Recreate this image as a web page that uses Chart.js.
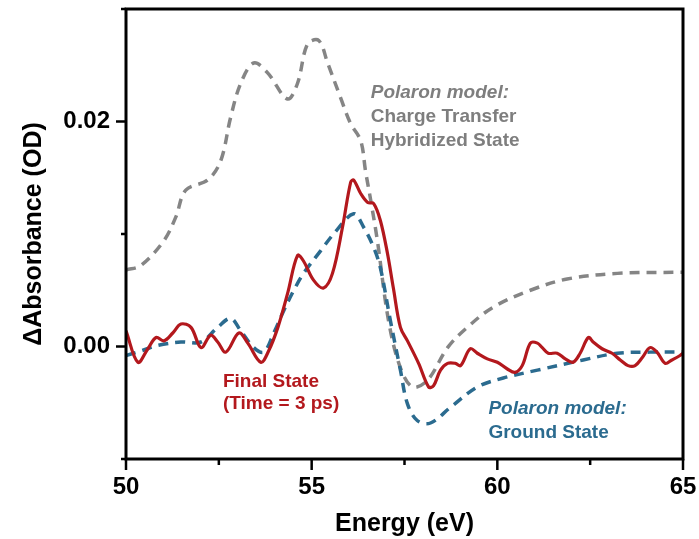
<!DOCTYPE html>
<html>
<head>
<meta charset="utf-8">
<script src="https://cdn.jsdelivr.net/npm/chart.js@4.4.0/dist/chart.umd.min.js"></script>
<style>
  html, body { margin: 0; padding: 0; background: #fff; }
  #wrap { width: 699px; height: 539px; }
</style>
</head>
<body>
<div id="wrap"><canvas id="absChart" width="699" height="539"></canvas></div>
<script>
// Polaron model: charge transfer hybridized state (gray dashed)
const ctEnergy = [50.0, 50.4, 51.02, 51.34, 51.61, 52.2, 52.55, 52.82, 53.09, 53.44, 53.82, 54.35, 54.62, 54.89, 55.19, 55.43, 55.78, 56.05, 56.32, 56.45, 56.59, 56.77, 57.07, 57.39, 57.72, 58.12, 58.66, 59.19, 59.89, 60.89, 61.88, 63.23, 65.0];
const ctAbs = [0.0068, 0.0072, 0.0094, 0.0115, 0.0139, 0.0148, 0.0165, 0.0204, 0.0234, 0.0252, 0.0243, 0.0220, 0.0234, 0.0269, 0.0272, 0.0252, 0.0221, 0.0198, 0.0183, 0.0156, 0.0130, 0.0094, 0.0023, -0.0019, -0.0036, -0.0030, -0.0001, 0.0017, 0.0035, 0.0050, 0.0060, 0.0065, 0.0066];

// Polaron model: ground state (blue dashed)
const gsEnergy = [50.0, 50.4, 50.86, 51.48, 52.02, 52.47, 52.82, 53.09, 53.44, 53.71, 53.98, 54.25, 54.52, 54.78, 55.24, 55.59, 56.13, 56.4, 56.67, 56.85, 57.12, 57.39, 57.58, 57.85, 58.2, 58.74, 59.46, 60.16, 61.08, 62.31, 63.23, 64.11, 65.0];
const gsAbs = [-0.0008, -0.0004, 0.0001, 0.0004, 0.0004, 0.0017, 0.0025, 0.0014, -0.0001, -0.0005, 0.0012, 0.0032, 0.0050, 0.0065, 0.0085, 0.0100, 0.0118, 0.0106, 0.0088, 0.0070, 0.0023, -0.0021, -0.0051, -0.0066, -0.0068, -0.0054, -0.0036, -0.0028, -0.0021, -0.0012, -0.0006, -0.0005, -0.0005];

// Final state, time = 3 ps (red solid)
const fsEnergy = [50.0, 50.32, 50.59, 50.81, 51.02, 51.26, 51.48, 51.75, 52.02, 52.28, 52.47, 52.69, 53.04, 53.28, 53.63, 53.84, 54.09, 54.35, 54.62, 54.78, 55.05, 55.32, 55.56, 55.83, 56.05, 56.13, 56.32, 56.51, 56.67, 56.85, 57.04, 57.2, 57.39, 57.58, 57.88, 58.15, 58.28, 58.47, 58.66, 58.87, 59.01, 59.27, 59.46, 59.73, 60.0, 60.27, 60.48, 60.67, 60.89, 61.08, 61.21, 61.37, 61.61, 61.83, 62.04, 62.23, 62.45, 62.58, 62.82, 63.09, 63.31, 63.52, 63.71, 63.9, 64.11, 64.3, 64.52, 64.7, 64.92, 65.0];
const fsAbs = [0.0014, -0.0014, -0.0002, 0.0008, 0.0005, 0.0012, 0.0020, 0.0017, -0.0001, 0.0010, 0.0004, -0.0005, 0.0012, 0.0003, -0.0014, -0.0004, 0.0017, 0.0047, 0.0081, 0.0076, 0.0059, 0.0052, 0.0065, 0.0106, 0.0146, 0.0148, 0.0136, 0.0128, 0.0127, 0.0112, 0.0083, 0.0052, 0.0017, 0.0005, -0.0015, -0.0036, -0.0035, -0.0021, -0.0015, -0.0015, -0.0017, -0.0002, -0.0006, -0.0011, -0.0014, -0.0020, -0.0023, -0.0017, 0.0003, 0.0003, -0.0001, -0.0006, -0.0006, -0.0011, -0.0014, -0.0006, 0.0008, 0.0004, -0.0002, -0.0006, -0.0012, -0.0017, -0.0017, -0.0010, -0.0001, -0.0005, -0.0015, -0.0012, -0.0008, -0.0006];

const xTickLabels = [50, 55, 60, 65];
const yTickLabels = [0.00, 0.02];

const RED = '#b3181d';
const BLUE = '#2b6b8f';
const GRAY = '#858585';
const FONT = '"Liberation Sans", Arial, sans-serif';

function toPoints(xs, ys) {
  return xs.map((x, i) => ({ x: x, y: ys[i] }));
}

// text notes, anchored in data coordinates
const notes = [
  { x: 56.59, y: 0.02213, color: '#7e7e7e', lines: [['italic bold', 'Polaron model:'], ['bold', 'Charge Transfer'], ['bold', 'Hybridized State']], step: 24 },
  { x: 52.61, y: -0.00364, color: RED, lines: [['bold', 'Final State'], ['bold', '(Time = 3 ps)']], step: 22 },
  { x: 59.76, y: -0.00596, color: BLUE, lines: [['italic bold', 'Polaron model:'], ['bold', 'Ground State']], step: 24 }
];

const isNear = (v, list) => list.some(t => Math.abs(v - t) < 1e-6);

const frameAndTicks = {
  id: 'frameAndTicks',
  afterDraw(chart) {
    const { ctx, chartArea: a, scales } = chart;
    ctx.save();
    ctx.strokeStyle = '#000';
    ctx.lineWidth = 3;
    ctx.strokeRect(a.left, a.top, a.right - a.left, a.bottom - a.top);
    ctx.lineWidth = 2.5;
    scales.x.ticks.forEach(t => {
      const px = scales.x.getPixelForValue(t.value);
      const len = isNear(t.value, xTickLabels) ? 11 : 6;
      ctx.beginPath();
      ctx.moveTo(px, a.bottom);
      ctx.lineTo(px, a.bottom + len);
      ctx.stroke();
    });
    scales.y.ticks.forEach(t => {
      const py = scales.y.getPixelForValue(t.value);
      const len = isNear(t.value, yTickLabels) ? 10 : 5;
      ctx.beginPath();
      ctx.moveTo(a.left, py);
      ctx.lineTo(a.left - len, py);
      ctx.stroke();
    });
    ctx.restore();
  },
  afterDatasetsDraw(chart) {
    const { ctx, scales } = chart;
    ctx.save();
    ctx.textBaseline = 'alphabetic';
    ctx.textAlign = 'left';
    notes.forEach(n => {
      const px = scales.x.getPixelForValue(n.x);
      const py = scales.y.getPixelForValue(n.y);
      ctx.fillStyle = n.color;
      n.lines.forEach((ln, i) => {
        ctx.font = ln[0] + ' 19px ' + FONT;
        ctx.fillText(ln[1], px, py + i * n.step);
      });
    });
    ctx.restore();
  }
};

new Chart(document.getElementById('absChart'), {
  type: 'line',
  data: {
    datasets: [
      {
        label: 'Final State (Time = 3 ps)',
        data: toPoints(fsEnergy, fsAbs),
        borderColor: RED,
        borderWidth: 3.2,
        pointRadius: 0,
        tension: 0.35,
        order: 0
      },
      {
        label: 'Polaron model: Ground State',
        data: toPoints(gsEnergy, gsAbs),
        borderColor: BLUE,
        borderWidth: 3.5,
        borderDash: [10, 7],
        pointRadius: 0,
        tension: 0.35,
        order: 1
      },
      {
        label: 'Polaron model: Charge Transfer Hybridized State',
        data: toPoints(ctEnergy, ctAbs),
        borderColor: GRAY,
        borderWidth: 3.5,
        borderDash: [10, 7],
        pointRadius: 0,
        tension: 0.35,
        order: 2
      }
    ]
  },
  options: {
    responsive: false,
    animation: false,
    layout: { padding: { top: 9, right: 16, left: 0, bottom: 0 } },
    plugins: { legend: { display: false }, tooltip: { enabled: false } },
    scales: {
      x: {
        type: 'linear',
        min: 50,
        max: 65,
        grid: { display: false, drawTicks: false },
        border: { display: false },
        ticks: {
          stepSize: 2.5,
          autoSkip: false,
          maxRotation: 0,
          padding: 14,
          color: '#000',
          font: { family: FONT, size: 24, weight: 'bold' },
          callback: v => isNear(v, xTickLabels) ? String(v) : ''
        },
        title: {
          display: true,
          text: 'Energy (eV)',
          color: '#000',
          padding: { top: 2, bottom: 0 },
          font: { family: FONT, size: 25, weight: 'bold' }
        },
        afterFit: s => { s.height = 80; s.paddingLeft = 0; s.paddingRight = 0; }
      },
      y: {
        min: -0.01,
        max: 0.03,
        grid: { display: false, drawTicks: false },
        border: { display: false },
        ticks: {
          stepSize: 0.01,
          autoSkip: false,
          padding: 16,
          color: '#000',
          font: { family: FONT, size: 24, weight: 'bold' },
          callback: v => isNear(v, yTickLabels) ? v.toFixed(2) : ''
        },
        title: {
          display: true,
          text: '\u0394Absorbance (OD)',
          color: '#000',
          padding: { top: 19, bottom: 0 },
          font: { family: FONT, size: 25, weight: 'bold' }
        },
        afterFit: s => { s.width = 126; s.paddingTop = 0; s.paddingBottom = 0; }
      }
    }
  },
  plugins: [frameAndTicks]
});
</script>
</body>
</html>
